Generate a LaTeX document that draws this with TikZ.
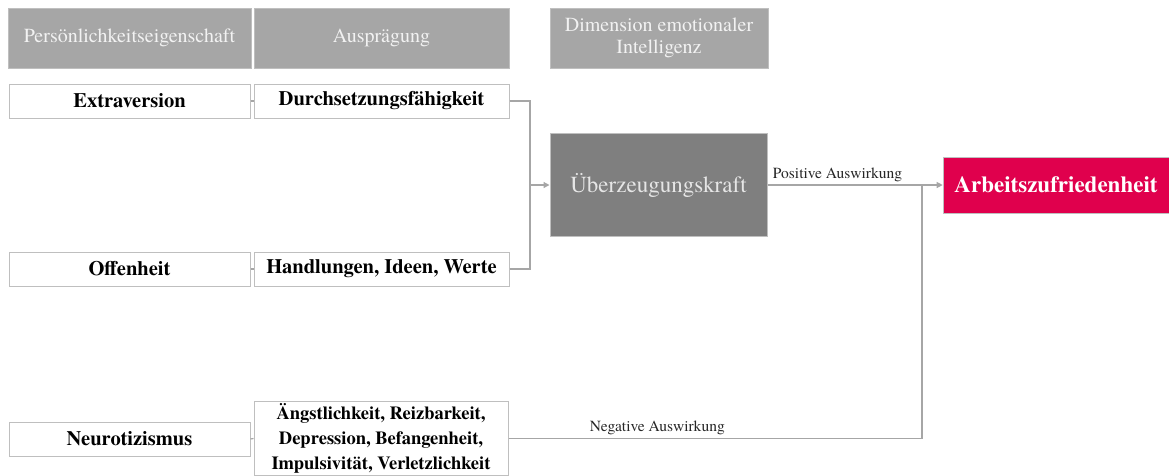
\documentclass[tikz,border=0pt]{standalone}
\usepackage{fontspec}
\setmainfont{texgyretermes-regular.otf}[BoldFont=texgyretermes-bold.otf]
\usetikzlibrary{arrows.meta}
\definecolor{hdrgray}{HTML}{A6A6A6}
\definecolor{hdrtext}{HTML}{F2F2F2}
\definecolor{darkbox}{HTML}{7F7F7F}
\definecolor{darktext}{HTML}{E6E6E6}
\definecolor{crimson}{HTML}{E0004D}
\definecolor{boxline}{HTML}{BFBFBF}
\definecolor{conline}{HTML}{A6A6A6}
\tikzset{
  hdr/.style={draw=boxline, line width=0.6pt, fill=hdrgray, text=hdrtext, inner sep=0pt, minimum height=60pt, align=center, font=\fontsize{20}{22}\selectfont},
  item/.style={draw=boxline, line width=1pt, fill=white, inner sep=0pt, minimum height=34pt, align=center, font=\fontsize{20.5}{24}\selectfont\bfseries},
  conn/.style={draw=conline, line width=1.2pt},
  arr/.style={conn, -{Triangle[length=6pt,width=6pt]}},
  lbl/.style={font=\fontsize{15.5}{18}\selectfont, text=black!85, inner sep=2pt}
}
\begin{document}
\begin{tikzpicture}[x=1pt,y=-1pt]
\useasboundingbox (0,0) rectangle (1169,475);
% headers
\node[hdr, minimum width=243pt] (h1) at (129.5,38) {Persönlichkeitseigenschaft};
\node[hdr, minimum width=255pt] (h2) at (381.5,38) {Ausprägung};
\node[hdr, minimum width=218pt] (h3) at (659,38) {Dimension emotionaler\\Intelligenz};
% rows
\node[item, minimum width=241pt] (ex) at (129.5,101) {Extraversion};
\node[item, minimum width=255pt] (du) at (381.5,101) {Durchsetzungsfähigkeit};
\node[item, minimum width=241pt] (of) at (129.5,269) {Offenheit};
\node[item, minimum width=255pt] (ha) at (381.5,269) {Handlungen, Ideen, Werte};
\node[item, minimum width=241pt] (ne) at (129.5,439) {Neurotizismus};
\node[item, minimum width=254pt, minimum height=74pt, font=\fontsize{18.5}{25}\selectfont\bfseries] (an) at (381,438.5) {Ängstlichkeit, Reizbarkeit,\\Depression, Befangenheit,\\Impulsivität, Verletzlichkeit};
% dimension
\node[draw=boxline, line width=1pt, fill=darkbox, text=darktext, inner sep=0pt, minimum width=217pt, minimum height=103pt, font=\fontsize{23}{26}\selectfont] (ue) at (658.5,185) {Überzeugungskraft};
% outcome
\node[draw=boxline, line width=0.6pt, fill=crimson, text=white, inner sep=0pt, minimum width=228pt, minimum height=56pt, font=\fontsize{23}{26}\selectfont\bfseries] (ar) at (1057,185) {Arbeitszufriedenheit\hspace*{2pt}};
% connectors
\coordinate (j) at (530,185);
\coordinate (k) at (922,185);
\draw[conn] (ex.east) -- (du.west);
\draw[conn] (of.east) -- (ha.west);
\draw[conn] (ne.east) -- (an.west);
\draw[conn] (du.east) -| (j);
\draw[conn] (ha.east) -| (j);
\draw[arr] (j) -- (ue.west);
\draw[arr] (ue.east) -- node[lbl, pos=0.4, above, yshift=1pt] {Positive Auswirkung} (ar.west);
\draw[conn] (an.east) -- node[lbl, pos=0.36, above, yshift=1pt] {Negative Auswirkung} (an.east -| k) -- (k);
\end{tikzpicture}
\end{document}
